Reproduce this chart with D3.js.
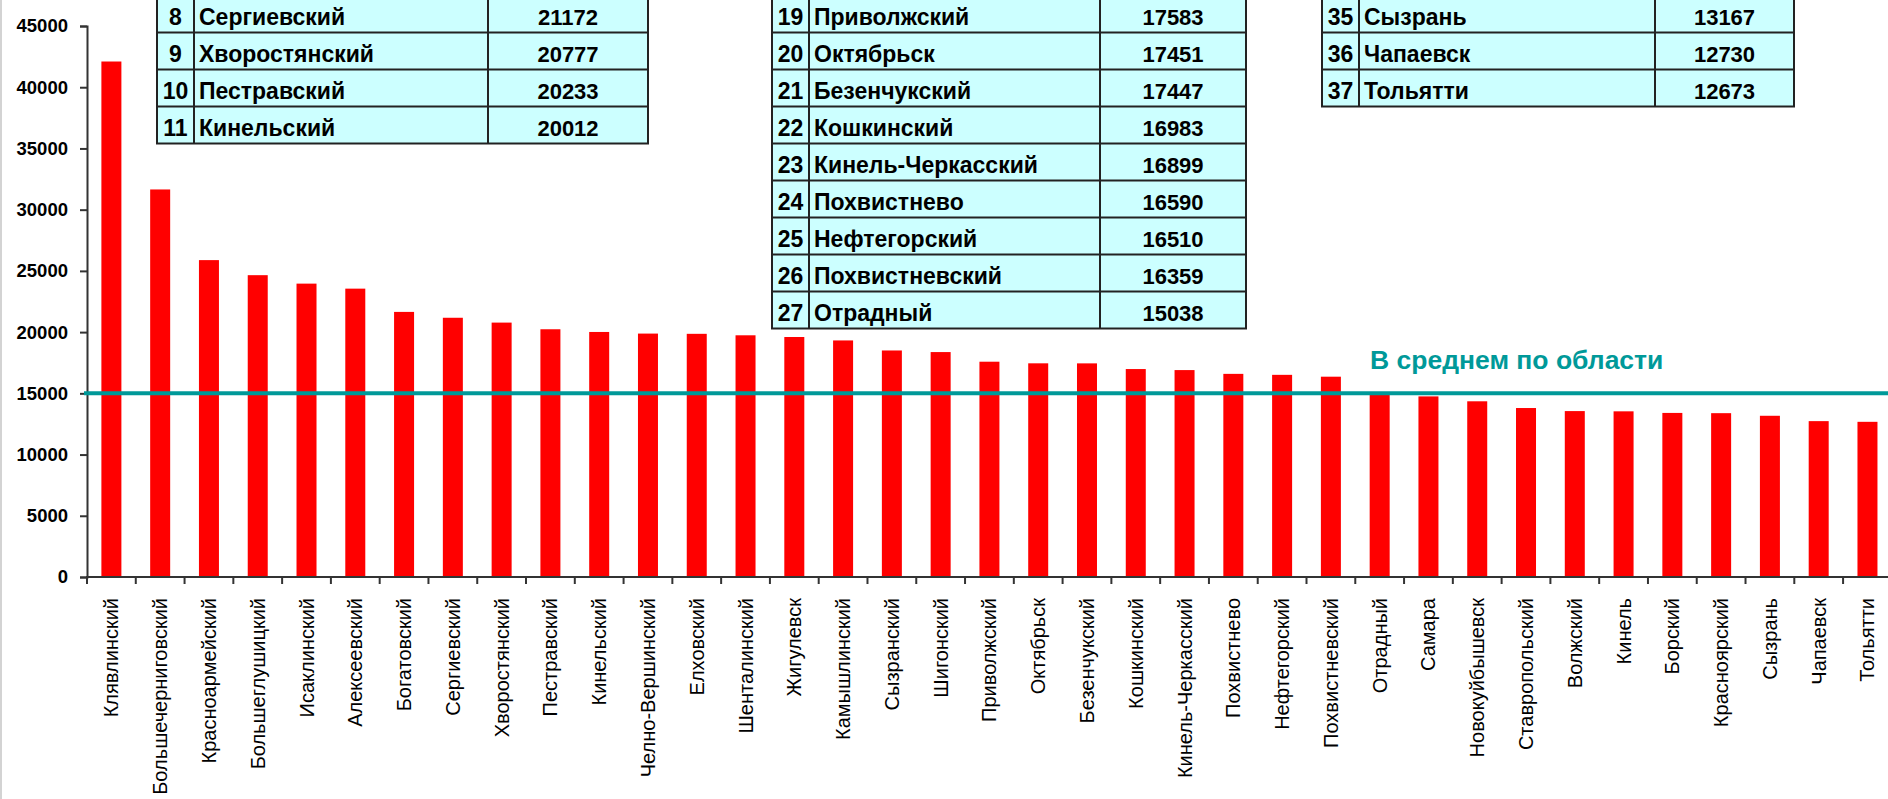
<!DOCTYPE html>
<html>
<head>
<meta charset="utf-8">
<style>
  body { margin: 0; background: #fff; }
  svg text { font-family: "Liberation Sans", Arial, sans-serif; }
</style>
<title>Районы области</title>
</head>
<body>
<script src="https://cdn.jsdelivr.net/npm/d3@7/dist/d3.min.js"></script>
<script>
// chart data
var categories = ["Клявлинский", "Большечерниговский", "Красноармейский", "Большеглушицкий",
  "Исаклинский", "Алексеевский", "Богатовский", "Сергиевский", "Хворостянский", "Пестравский",
  "Кинельский", "Челно-Вершинский", "Елховский", "Шенталинский", "Жигулевск", "Камышлинский",
  "Сызранский", "Шигонский", "Приволжский", "Октябрьск", "Безенчукский", "Кошкинский",
  "Кинель-Черкасский", "Похвистнево", "Нефтегорский", "Похвистневский", "Отрадный", "Самара",
  "Новокуйбышевск", "Ставропольский", "Волжский", "Кинель", "Борский", "Красноярский",
  "Сызрань", "Чапаевск", "Тольятти"];
var values = [42100, 31650, 25880, 24650, 23960, 23550, 21650, 21172, 20777, 20233,
  20012, 19880, 19860, 19740, 19600, 19320, 18500, 18370, 17583, 17451,
  17447, 16983, 16899, 16590, 16510, 16359, 15038, 14750, 14350, 13800,
  13550, 13530, 13400, 13380, 13167, 12730, 12673];
var yTicks = [0, 5000, 10000, 15000, 20000, 25000, 30000, 35000, 40000, 45000];
var average = 15000;
var averageLabel = "В среднем по области";
// ranks shown in the three tables
var table1Ranks = [8, 9, 10, 11];
var table2Ranks = [19, 20, 21, 22, 23, 24, 25, 26, 27];
var table3Ranks = [35, 36, 37];

var w = 1888, h = 799;
var margin = {left: 87, top: 26, bottom: 222};
var plotRight = 87 + 37 * 48.78;

var svg = d3.select("body").append("svg")
  .attr("width", w).attr("height", h);

// left frame line
svg.append("line")
  .attr("x1", 1).attr("x2", 1).attr("y1", 0).attr("y2", h)
  .attr("stroke", "#c4c4c4").attr("stroke-width", 1.5);

var x = d3.scaleBand()
  .domain(categories)
  .range([margin.left, plotRight])
  .paddingInner(0.59)
  .paddingOuter(0.295);

var y = d3.scaleLinear()
  .domain([0, 45000])
  .range([h - margin.bottom, margin.top]);

var data = categories.map(function(c, i) { return {name: c, value: values[i], rank: i + 1}; });

// bars
svg.append("g").selectAll("rect")
  .data(data)
  .enter().append("rect")
  .attr("x", function(d) { return x(d.name); })
  .attr("y", function(d) { return y(d.value); })
  .attr("width", x.bandwidth())
  .attr("height", function(d) { return y(0) - y(d.value); })
  .attr("fill", "#ff0000");

// y axis
var yAxis = d3.axisLeft(y).tickValues(yTicks).tickSize(7).tickPadding(12).tickFormat(d3.format("d"));
var gy = svg.append("g")
  .attr("transform", "translate(" + margin.left + ",0)")
  .call(yAxis);
gy.select(".domain").attr("stroke", "#333").attr("stroke-width", 2);
gy.selectAll(".tick line").attr("stroke", "#333").attr("stroke-width", 2);
gy.selectAll(".tick text")
  .attr("font-size", 18.5).attr("font-weight", "bold")
  .attr("fill", "#000")
  .style("font-family", '"Liberation Sans", Arial, sans-serif');

// x axis (ticks between categories)
var step = x.step();
var gx = svg.append("g").attr("transform", "translate(0," + y(0) + ")");
gx.append("line")
  .attr("x1", margin.left - 1).attr("x2", w)
  .attr("stroke", "#333").attr("stroke-width", 2);
gx.selectAll(".sep")
  .data(categories)
  .enter().append("line")
  .attr("class", "sep")
  .attr("x1", function(d) { return x(d) - (step - x.bandwidth()) / 2; })
  .attr("x2", function(d) { return x(d) - (step - x.bandwidth()) / 2; })
  .attr("y1", 0).attr("y2", 7)
  .attr("stroke", "#333").attr("stroke-width", 2);
gx.selectAll(".lbl")
  .data(categories)
  .enter().append("text")
  .attr("class", "lbl")
  .attr("transform", function(d) {
    return "translate(" + (x(d) + x.bandwidth() / 2) + ",21) rotate(-90)";
  })
  .attr("dy", "0.35em")
  .attr("text-anchor", "end")
  .attr("font-size", 20)
  .attr("fill", "#000")
  .text(function(d) { return d; });

// average line
svg.append("line")
  .attr("x1", margin.left - 3).attr("x2", w)
  .attr("y1", y(average)).attr("y2", y(average))
  .attr("stroke", "#009999").attr("stroke-width", 4);
svg.append("text")
  .attr("x", 1370).attr("y", y(average) - 24)
  .attr("font-size", 26.5).attr("font-weight", "bold")
  .attr("fill", "#009999")
  .text(averageLabel);

// tables
var rowH = 37, rowTop = -4.5;
function drawTable(ranks, cols) {
  var g = svg.append("g");
  var rows = ranks.map(function(r) { return data[r - 1]; });
  g.append("rect")
    .attr("x", cols[0]).attr("y", rowTop)
    .attr("width", cols[3] - cols[0]).attr("height", rows.length * rowH)
    .attr("fill", "#ccffff").attr("stroke", "#222").attr("stroke-width", 2);
  [cols[1], cols[2]].forEach(function(cx) {
    g.append("line").attr("x1", cx).attr("x2", cx)
      .attr("y1", rowTop).attr("y2", rowTop + rows.length * rowH)
      .attr("stroke", "#222").attr("stroke-width", 2);
  });
  rows.forEach(function(d, i) {
    var top = rowTop + i * rowH;
    if (i > 0) {
      g.append("line").attr("x1", cols[0]).attr("x2", cols[3])
        .attr("y1", top).attr("y2", top)
        .attr("stroke", "#222").attr("stroke-width", 2);
    }
    g.append("text").attr("x", (cols[0] + cols[1]) / 2).attr("y", top + 29)
      .attr("text-anchor", "middle").attr("font-size", 23).attr("font-weight", "bold")
      .text(d.rank);
    g.append("text").attr("x", cols[1] + 5).attr("y", top + 29)
      .attr("font-size", 23).attr("font-weight", "bold")
      .text(d.name);
    g.append("text").attr("x", (cols[2] + cols[3]) / 2).attr("y", top + 29)
      .attr("text-anchor", "middle").attr("font-size", 22).attr("font-weight", "bold")
      .text(d.value);
  });
}
drawTable(table1Ranks, [157, 194, 488, 648]);
drawTable(table2Ranks, [772, 809, 1100, 1246]);
drawTable(table3Ranks, [1322, 1359, 1655, 1794]);
</script>
</body>
</html>
